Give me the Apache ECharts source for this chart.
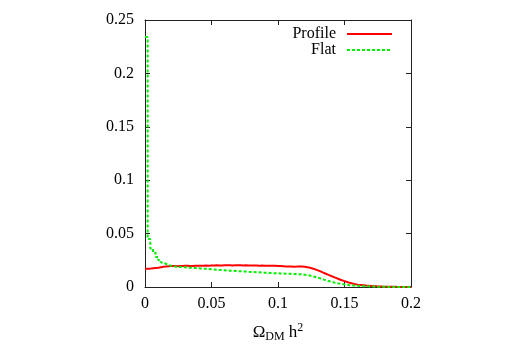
<!DOCTYPE html>
<html>
<head>
<meta charset="utf-8">
<script src="https://cdn.jsdelivr.net/npm/echarts@6/dist/echarts.min.js"></script>
<style>
  html, body { margin: 0; padding: 0; background: #fff; }
  #chart { width: 506px; height: 354px; }
</style>
</head>
<body>
<div id="chart"></div>
<script>
// histogram bins: 100 bins of width 0.002 from 0 to 0.2
const binStart = 0;
const binWidth = 0.002;

const profile = [
  0.0170, 0.0172, 0.0175, 0.0178, 0.0181, 0.0185, 0.0189, 0.0193, 0.0195, 0.0196,
  0.0196, 0.0195, 0.0197, 0.0196, 0.0198, 0.0199, 0.0197, 0.0196, 0.0199, 0.0200,
  0.0199, 0.0200, 0.0201, 0.0200, 0.0202, 0.0201, 0.0203, 0.0202, 0.0201, 0.0203,
  0.0203, 0.0204, 0.0202, 0.0203, 0.0204, 0.0203, 0.0202, 0.0203, 0.0201, 0.0202,
  0.0202, 0.0201, 0.0200, 0.0201, 0.0200, 0.0199, 0.0200, 0.0198, 0.0199, 0.0197,
  0.0196, 0.0195, 0.0193, 0.0192, 0.0193, 0.0190, 0.0191, 0.0193, 0.0192, 0.0189,
  0.0186, 0.0180, 0.0173, 0.0165, 0.0156, 0.0146, 0.0135, 0.0124, 0.0113, 0.0103,
  0.0093, 0.0083, 0.0073, 0.0063, 0.0055, 0.0047, 0.0039, 0.0032, 0.0027, 0.0022,
  0.0019, 0.0016, 0.0013, 0.0011, 0.0009, 0.0007, 0.0006, 0.0005, 0.0004, 0.0003,
  0.0003, 0.0002, 0.0002, 0.0002, 0.0001, 0.0001, 0.0001, 0.0001, 0.0001, 0.0001
];

const flat = [
  0.2340, 0.0450, 0.0360, 0.0320, 0.0280, 0.0250, 0.0230, 0.0215, 0.0205, 0.0198,
  0.0193, 0.0190, 0.0188, 0.0186, 0.0184, 0.0182, 0.0180, 0.0179, 0.0177, 0.0176,
  0.0174, 0.0172, 0.0170, 0.0168, 0.0166, 0.0164, 0.0162, 0.0160, 0.0158, 0.0157,
  0.0155, 0.0153, 0.0152, 0.0150, 0.0148, 0.0147, 0.0145, 0.0144, 0.0142, 0.0141,
  0.0140, 0.0138, 0.0137, 0.0136, 0.0134, 0.0133, 0.0132, 0.0130, 0.0129, 0.0128,
  0.0127, 0.0126, 0.0125, 0.0124, 0.0123, 0.0122, 0.0121, 0.0120, 0.0118, 0.0115,
  0.0112, 0.0107, 0.0101, 0.0094, 0.0087, 0.0079, 0.0071, 0.0063, 0.0056, 0.0050,
  0.0043, 0.0037, 0.0032, 0.0028, 0.0024, 0.0020, 0.0017, 0.0015, 0.0013, 0.0011,
  0.0009, 0.0008, 0.0007, 0.0006, 0.0005, 0.0004, 0.0003, 0.0003, 0.0002, 0.0002,
  0.0002, 0.0001, 0.0001, 0.0001, 0.0001, 0.0001, 0.0001, 0.0001, 0.0000, 0.0000
];

const seriesNames = ["Profile", "Flat"];

// step points at bin edges, plus closing edge
function toSteps(vals) {
  const pts = vals.map((v, i) => [binStart + i * binWidth, v]);
  pts.push([binStart + vals.length * binWidth, vals[vals.length - 1]]);
  return pts;
}

const font = "Liberation Serif";
const chart = echarts.init(document.getElementById("chart"), null, { renderer: "canvas" });

const axisLine = { show: true, onZero: false, lineStyle: { color: "#222", width: 1 } };
const tick = { inside: true, length: 5, lineStyle: { color: "#222" } };

chart.setOption({
  animation: false,
  grid: { left: 145, top: 20, width: 266, height: 267 },
  legend: {
    orient: "vertical",
    right: 108,
    top: 21,
    align: "right",
    itemWidth: 45,
    itemHeight: 10,
    itemGap: 0,
    itemStyle: { opacity: 0 },
    textStyle: { fontFamily: font, fontSize: 16, color: "#000", lineHeight: 16, padding: [0, 6, 0, 0] },
    data: seriesNames
  },
  xAxis: [
    {
      type: "value",
      min: 0, max: 0.2, interval: 0.05,
      axisLine: axisLine,
      axisTick: tick,
      splitLine: { show: false },
      axisLabel: { fontFamily: font, fontSize: 16, color: "#000", margin: 9 },
      name: "{a|Ω}{s|DM}{a| h}{p|2}",
      nameLocation: "middle",
      nameGap: 35,
      nameTextStyle: {
        rich: {
          a: { fontFamily: font, fontSize: 17, color: "#000" },
          s: { fontFamily: font, fontSize: 12, color: "#000", padding: [8, 0, 0, 0] },
          p: { fontFamily: font, fontSize: 12, color: "#000", padding: [0, 0, 10, 0] }
        }
      }
    },
    {
      type: "value", position: "top",
      min: 0, max: 0.2, interval: 0.05,
      axisLine: axisLine,
      axisTick: tick,
      axisLabel: { show: false },
      splitLine: { show: false }
    }
  ],
  yAxis: [
    {
      type: "value",
      min: 0, max: 0.25, interval: 0.05,
      axisLine: axisLine,
      axisTick: tick,
      splitLine: { show: false },
      axisLabel: { fontFamily: font, fontSize: 16, color: "#000", margin: 11 }
    },
    {
      type: "value", position: "right",
      min: 0, max: 0.25, interval: 0.05,
      axisLine: axisLine,
      axisTick: tick,
      axisLabel: { show: false },
      splitLine: { show: false }
    }
  ],
  series: [
    {
      name: seriesNames[0],
      type: "line",
      step: "end",
      symbol: "none",
      data: toSteps(profile),
      lineStyle: { color: "#ff0000", width: 2 },
      itemStyle: { color: "#ff0000" },
      z: 3
    },
    {
      name: seriesNames[1],
      type: "line",
      step: "end",
      symbol: "none",
      data: toSteps(flat),
      lineStyle: { color: "#00f000", width: 2, type: [3, 2] },
      itemStyle: { color: "#00f000" },
      z: 4
    }
  ]
});
</script>
</body>
</html>
